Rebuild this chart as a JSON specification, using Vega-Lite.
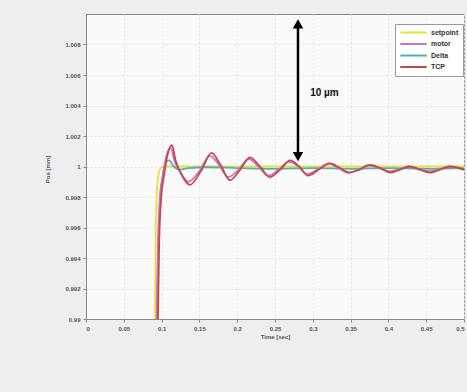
{
  "$schema": "https://vega.github.io/schema/vega-lite/v6.json",
  "width": 378,
  "height": 305,
  "autosize": {"type": "none"},
  "padding": {"left": 86, "top": 14, "right": 3, "bottom": 73},
  "background": "#eeeeef",
  "config": {
    "view": {"stroke": "#8a8a8a", "strokeWidth": 1, "fill": "#fafafa"},
    "font": "Liberation Sans",
    "axis": {
      "labelFont": "Liberation Sans", "labelFontSize": 6, "labelFontWeight": "bold", "labelColor": "#555555",
      "titleFont": "Liberation Sans", "titleFontSize": 6, "titleFontWeight": "bold", "titleColor": "#555555",
      "domainColor": "#8a8a8a", "tickColor": "#8a8a8a", "tickSize": 3,
      "gridColor": "#e4e4e4", "gridDash": [2, 2]
    }
  },
  "datasets": {
    "lines": [
      {"s": "setpoint", "t": 0.0913, "p": 0.99},
      {"s": "setpoint", "t": 0.0920, "p": 0.995},
      {"s": "setpoint", "t": 0.0935, "p": 0.998},
      {"s": "setpoint", "t": 0.0960, "p": 0.9995},
      {"s": "setpoint", "t": 0.1000, "p": 0.99995},
      {"s": "setpoint", "t": 0.1060, "p": 1.0},
      {"s": "setpoint", "t": 0.5, "p": 1.0},

      {"s": "Delta", "t": 0.0939, "p": 0.99},
      {"s": "Delta", "t": 0.0955, "p": 0.9945},
      {"s": "Delta", "t": 0.0980, "p": 0.9978},
      {"s": "Delta", "t": 0.1015, "p": 0.9994},
      {"s": "Delta", "t": 0.106, "p": 1.0003},
      {"s": "Delta", "t": 0.110, "p": 1.0004},
      {"s": "Delta", "t": 0.116, "p": 1.0},
      {"s": "Delta", "t": 0.124, "p": 0.9998},
      {"s": "Delta", "t": 0.135, "p": 0.9999},
      {"s": "Delta", "t": 0.16, "p": 0.99995},
      {"s": "Delta", "t": 0.2, "p": 0.9999},
      {"s": "Delta", "t": 0.25, "p": 0.99985},
      {"s": "Delta", "t": 0.3, "p": 0.9999},
      {"s": "Delta", "t": 0.35, "p": 0.99985},
      {"s": "Delta", "t": 0.4, "p": 0.9999},
      {"s": "Delta", "t": 0.45, "p": 0.99985},
      {"s": "Delta", "t": 0.5, "p": 0.9999},

      {"s": "motor", "t": 0.0935, "p": 0.99},
      {"s": "motor", "t": 0.095, "p": 0.9945},
      {"s": "motor", "t": 0.0975, "p": 0.9978},
      {"s": "motor", "t": 0.1015, "p": 0.9994},
      {"s": "motor", "t": 0.107, "p": 1.0008},
      {"s": "motor", "t": 0.112, "p": 1.0012},
      {"s": "motor", "t": 0.1175, "p": 1.0003},
      {"s": "motor", "t": 0.124, "p": 0.9997},
      {"s": "motor", "t": 0.1355, "p": 0.999},
      {"s": "motor", "t": 0.150, "p": 0.9997},
      {"s": "motor", "t": 0.164, "p": 1.0007},
      {"s": "motor", "t": 0.176, "p": 1.0001},
      {"s": "motor", "t": 0.188, "p": 0.9993},
      {"s": "motor", "t": 0.202, "p": 0.9998},
      {"s": "motor", "t": 0.215, "p": 1.0005},
      {"s": "motor", "t": 0.228, "p": 1.0},
      {"s": "motor", "t": 0.241, "p": 0.9994},
      {"s": "motor", "t": 0.255, "p": 0.9998},
      {"s": "motor", "t": 0.268, "p": 1.0003},
      {"s": "motor", "t": 0.281, "p": 1.0},
      {"s": "motor", "t": 0.292, "p": 0.9995},
      {"s": "motor", "t": 0.306, "p": 0.9998},
      {"s": "motor", "t": 0.321, "p": 1.0002},
      {"s": "motor", "t": 0.334, "p": 0.9999},
      {"s": "motor", "t": 0.347, "p": 0.9996},
      {"s": "motor", "t": 0.361, "p": 0.9998},
      {"s": "motor", "t": 0.374, "p": 1.0001},
      {"s": "motor", "t": 0.388, "p": 0.9999},
      {"s": "motor", "t": 0.401, "p": 0.9997},
      {"s": "motor", "t": 0.414, "p": 0.9998},
      {"s": "motor", "t": 0.427, "p": 1.0},
      {"s": "motor", "t": 0.441, "p": 0.9998},
      {"s": "motor", "t": 0.454, "p": 0.9997},
      {"s": "motor", "t": 0.467, "p": 0.9998},
      {"s": "motor", "t": 0.480, "p": 1.0},
      {"s": "motor", "t": 0.5, "p": 0.9998},

      {"s": "TCP", "t": 0.0952, "p": 0.99},
      {"s": "TCP", "t": 0.0966, "p": 0.9945},
      {"s": "TCP", "t": 0.0992, "p": 0.9978},
      {"s": "TCP", "t": 0.1032, "p": 0.9994},
      {"s": "TCP", "t": 0.1085, "p": 1.0009},
      {"s": "TCP", "t": 0.1138, "p": 1.0014},
      {"s": "TCP", "t": 0.1185, "p": 1.0004},
      {"s": "TCP", "t": 0.125, "p": 0.9996},
      {"s": "TCP", "t": 0.1376, "p": 0.9988},
      {"s": "TCP", "t": 0.152, "p": 0.9997},
      {"s": "TCP", "t": 0.166, "p": 1.0009},
      {"s": "TCP", "t": 0.178, "p": 1.0001},
      {"s": "TCP", "t": 0.1905, "p": 0.9991},
      {"s": "TCP", "t": 0.204, "p": 0.9998},
      {"s": "TCP", "t": 0.217, "p": 1.0006},
      {"s": "TCP", "t": 0.230, "p": 1.0},
      {"s": "TCP", "t": 0.243, "p": 0.9993},
      {"s": "TCP", "t": 0.257, "p": 0.9998},
      {"s": "TCP", "t": 0.270, "p": 1.0004},
      {"s": "TCP", "t": 0.282, "p": 1.0},
      {"s": "TCP", "t": 0.2937, "p": 0.9994},
      {"s": "TCP", "t": 0.308, "p": 0.9998},
      {"s": "TCP", "t": 0.3228, "p": 1.0002},
      {"s": "TCP", "t": 0.336, "p": 0.9999},
      {"s": "TCP", "t": 0.349, "p": 0.9996},
      {"s": "TCP", "t": 0.362, "p": 0.9998},
      {"s": "TCP", "t": 0.3757, "p": 1.0001},
      {"s": "TCP", "t": 0.389, "p": 0.9999},
      {"s": "TCP", "t": 0.402, "p": 0.9996},
      {"s": "TCP", "t": 0.415, "p": 0.9998},
      {"s": "TCP", "t": 0.4286, "p": 1.0},
      {"s": "TCP", "t": 0.442, "p": 0.9998},
      {"s": "TCP", "t": 0.455, "p": 0.9996},
      {"s": "TCP", "t": 0.468, "p": 0.9998},
      {"s": "TCP", "t": 0.4815, "p": 1.0},
      {"s": "TCP", "t": 0.5, "p": 0.9998}
    ],
    "arrow": [
      {"t": 0.2804, "p": 1.0094, "p2": 1.0007}
    ],
    "heads": [
      {"t": 0.2804, "p": 1.00935, "dir": "up"},
      {"t": 0.2804, "p": 1.00065, "dir": "down"}
    ],
    "label": [
      {"t": 0.2965, "p": 1.0048, "text": "10 µm"}
    ]
  },
  "encoding": {
    "x": {
      "field": "t", "type": "quantitative",
      "scale": {"domain": [0, 0.5], "nice": false, "zero": false},
      "axis": {
        "values": [0, 0.05, 0.1, 0.15, 0.2, 0.25, 0.3, 0.35, 0.4, 0.45, 0.5],
        "format": ".2~f", "title": "Time [sec]", "grid": true, "labelOverlap": false,
        "labelPadding": 3, "titlePadding": 2, "labelFlush": true
      }
    },
    "y": {
      "field": "p", "type": "quantitative",
      "scale": {"domain": [0.99, 1.01], "nice": false, "zero": false},
      "axis": {
        "values": [0.99, 0.992, 0.994, 0.996, 0.998, 1.0, 1.002, 1.004, 1.006, 1.008],
        "format": ".3~f", "title": "Pos [mm]", "grid": true, "labelOverlap": false,
        "labelPadding": 3, "titleX": -36, "titleY": 155, "labelFlush": false
      }
    }
  },
  "layer": [
    {
      "data": {"name": "lines"},
      "mark": {"type": "line", "strokeWidth": 1.8, "interpolate": "monotone", "clip": true},
      "encoding": {
        "color": {
          "field": "s", "type": "nominal",
          "scale": {
            "domain": ["setpoint", "motor", "Delta", "TCP"],
            "range": ["#e6e03c", "#d070c8", "#4fb2b0", "#c04a48"]
          },
          "sort": ["setpoint", "motor", "Delta", "TCP"],
          "legend": {
            "title": null, "orient": "none", "legendX": 309, "legendY": 10,
            "symbolType": "stroke", "symbolSize": 700, "symbolStrokeWidth": 2,
            "clipHeight": 9,
            "labelFont": "Liberation Sans", "labelFontSize": 7, "labelFontWeight": "bold",
            "labelColor": "#333333", "labelOffset": 3, "rowPadding": 2.5,
            "padding": 4, "strokeColor": "#999999", "fillColor": "#ffffff",
            "labelLimit": 40
          }
        }
      }
    },
    {
      "data": {"name": "arrow"},
      "mark": {"type": "rule", "strokeWidth": 2.5, "color": "#000000"},
      "encoding": {
        "y2": {"field": "p2"}
      }
    },
    {
      "data": {"name": "heads"},
      "mark": {"type": "point", "filled": true, "color": "#000000", "opacity": 1, "size": 110},
      "encoding": {
        "shape": {
          "field": "dir", "type": "nominal",
          "scale": {"domain": ["up", "down"], "range": ["triangle-up", "triangle-down"]},
          "legend": null
        }
      }
    },
    {
      "data": {"name": "label"},
      "mark": {"type": "text", "align": "left", "baseline": "middle", "font": "Liberation Sans", "fontSize": 10, "fontWeight": "bold", "color": "#111111"},
      "encoding": {
        "text": {"field": "text"}
      }
    }
  ]
}
